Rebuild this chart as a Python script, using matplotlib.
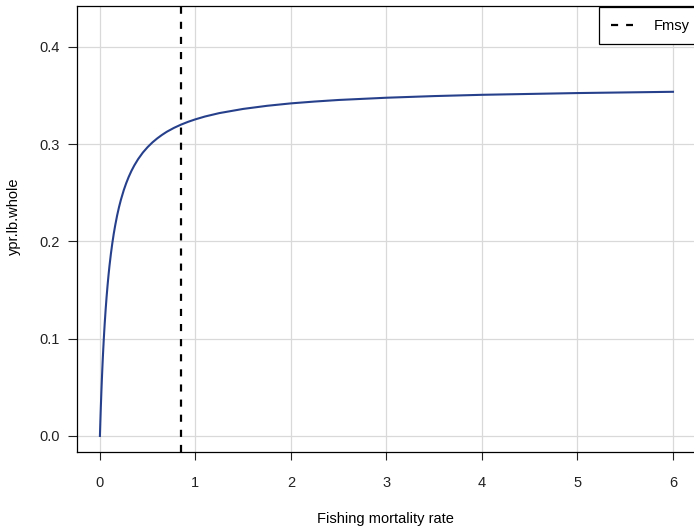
import matplotlib
matplotlib.use("Agg")
import matplotlib.pyplot as plt

plt.rcParams['font.family'] = ['Liberation Sans', 'DejaVu Sans']

# yield per recruit curve
fishing_mort = [0.0, 0.0025, 0.005, 0.0075, 0.01, 0.015, 0.02, 0.025, 0.03, 0.035,
                0.04, 0.045, 0.05, 0.06, 0.07, 0.08, 0.09, 0.1, 0.115, 0.13,
                0.145, 0.16, 0.18, 0.2, 0.22, 0.25, 0.275, 0.3, 0.33, 0.36,
                0.4, 0.45, 0.5, 0.55, 0.6, 0.65, 0.7, 0.775, 0.85, 0.925,
                1.0, 1.1, 1.25, 1.5, 1.75, 2.0, 2.25, 2.5, 3.0, 3.5,
                4.0, 5.0, 6.0]
ypr_lb_whole = [0.0, 0.0083, 0.0162, 0.0238, 0.0310, 0.0446, 0.0571, 0.0687, 0.0794, 0.0894,
                0.0986, 0.1073, 0.1154, 0.1301, 0.1432, 0.1548, 0.1653, 0.1748, 0.1873, 0.1983,
                0.2080, 0.2165, 0.2266, 0.2353, 0.2429, 0.2528, 0.2598, 0.2660, 0.2725, 0.2781,
                0.2846, 0.2914, 0.2970, 0.3018, 0.3059, 0.3095, 0.3127, 0.3167, 0.3201, 0.3230,
                0.3255, 0.3284, 0.3319, 0.3362, 0.3394, 0.3419, 0.3438, 0.3454, 0.3477, 0.3494,
                0.3507, 0.3525, 0.3538]
fmsy = 0.85

x_ticks = [0, 1, 2, 3, 4, 5, 6]
y_ticks = [0.0, 0.1, 0.2, 0.3, 0.4]

fig = plt.figure(figsize=(6.94, 5.26), dpi=100)
ax = fig.add_axes([77 / 694, 1 - 452 / 526, 1 - 77 / 694, (452 - 6) / 526])

ax.grid(True, color='#d9d9d9', linewidth=0.9)
ax.set_axisbelow(True)

ax.plot(fishing_mort, ypr_lb_whole, color='#27408B', linewidth=1.5, zorder=3)
ax.axvline(fmsy, color='black', linewidth=1.6, dashes=(3.2, 3.6), label='Fmsy', zorder=4)

ax.set_xlim(-0.24, 6.22)
ax.set_ylim(-0.0165, 0.442)
ax.set_xticks(x_ticks)
ax.set_xticklabels([str(v) for v in x_ticks])
ax.set_yticks(y_ticks)
ax.set_yticklabels(['%.1f' % v for v in y_ticks])

ax.spines['right'].set_visible(False)
for s in ['left', 'bottom', 'top']:
    ax.spines[s].set_linewidth(0.9)
    ax.spines[s].set_color('black')

ax.tick_params(axis='x', length=6, width=0.8, pad=11, labelsize=10.5, colors='#222222')
ax.tick_params(axis='y', length=6.5, width=0.8, pad=6, labelsize=10.5, colors='#222222')
for t in ax.get_xticklines() + ax.get_yticklines():
    t.set_color('black')

ax.set_xlabel('Fishing mortality rate', fontsize=10.5, labelpad=16)
ax.set_ylabel('ypr.lb.whole', fontsize=10.5)
ax.yaxis.set_label_coords(-0.0908, 0.529)

leg = ax.legend(loc='upper left', bbox_to_anchor=(599 / 694, 1 - 7 / 526),
                bbox_transform=fig.transFigure, borderaxespad=0, fancybox=False,
                framealpha=1, edgecolor='black', fontsize=10.5, handlelength=1.55,
                handletextpad=1.4, borderpad=0.8)
leg.get_frame().set_linewidth(0.9)

fig.savefig('out.png', dpi=100)
